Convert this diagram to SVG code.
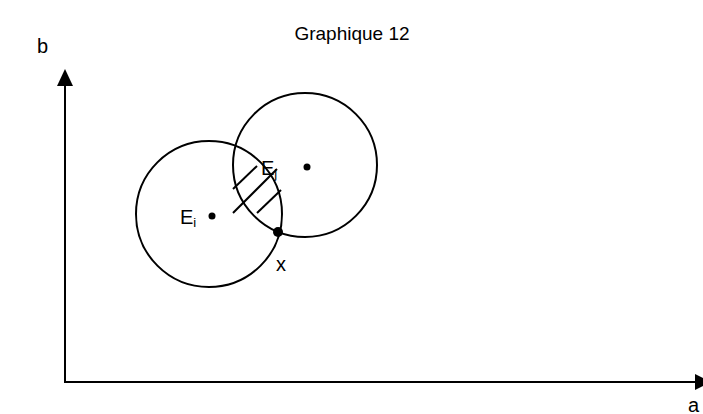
<svg xmlns="http://www.w3.org/2000/svg" width="703" height="414" viewBox="0 0 703 414">
<style>
.t{font-family:"Liberation Sans",Arial,sans-serif;fill:#000}
.ln{stroke:#000;stroke-width:2;fill:none}
.lb{font-size:20px}
.sb{font-size:13px}
</style>
<rect width="703" height="414" fill="#fff"/>
<text class="t" x="352" y="40" font-size="19" text-anchor="middle">Graphique 12</text>
<g id="connectors">
<line class="ln" x1="65" y1="383" x2="65" y2="80"/>
<path d="M57,86 L65,69 L73,86 z" fill="#000"/>
<line class="ln" x1="64" y1="382" x2="700" y2="382"/>
<path d="M695,374 L711,382 L695,390 z" fill="#000"/>
</g>
<text class="t lb" x="37" y="53">b</text>
<text class="t lb" x="688" y="412">a</text>
<g id="circle-i"><circle class="ln" cx="209" cy="214" r="73"/></g>
<g id="circle-j"><circle class="ln" cx="305" cy="165" r="72"/></g>
<g id="hatch">
<line class="ln" x1="233" y1="189" x2="257" y2="166"/>
<line class="ln" x1="233" y1="213" x2="277" y2="169"/>
<line class="ln" x1="257" y1="213" x2="281" y2="190"/>
</g>
<g id="Ei"><circle cx="212" cy="216" r="3.5" fill="#000"/><text class="t lb" x="180" y="224">E<tspan class="sb" dy="3">i</tspan></text></g>
<g id="Ej"><circle cx="307" cy="167" r="3.5" fill="#000"/><text class="t lb" x="261" y="175">E<tspan class="sb" dy="3">j</tspan></text></g>
<g id="x"><circle cx="278" cy="232" r="5" fill="#000"/><text class="t lb" x="276" y="271">x</text></g>
</svg>
